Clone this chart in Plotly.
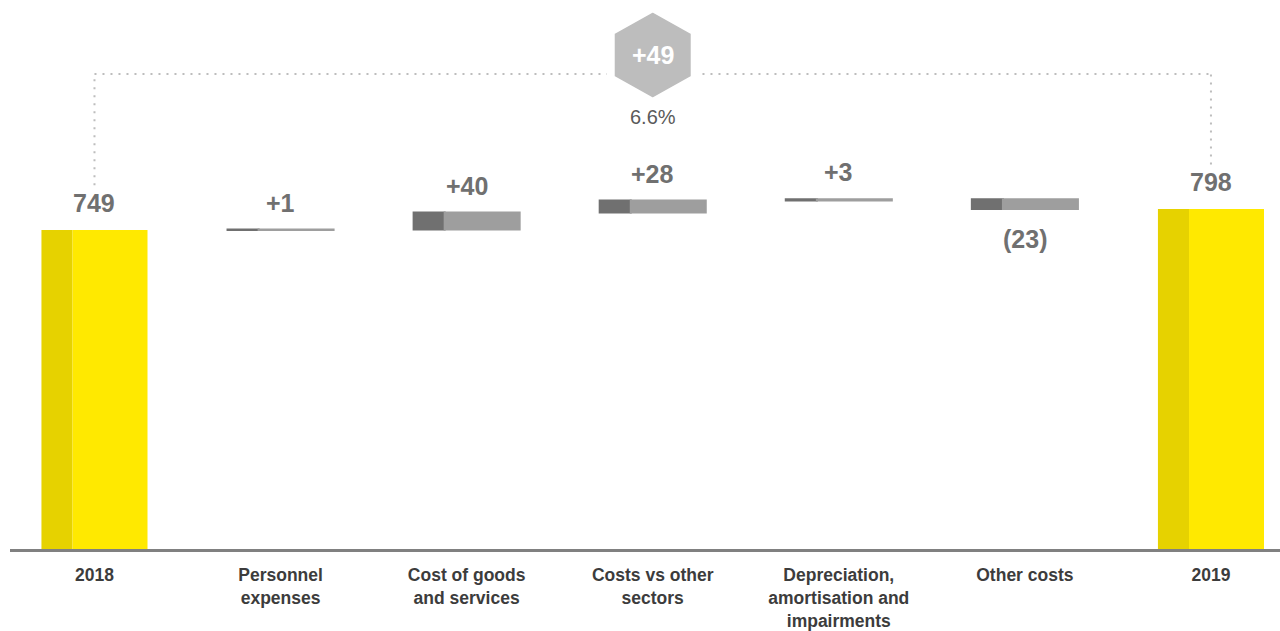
import plotly.graph_objects as go

# ---- data -------------------------------------------------------------
categories = [
    "2018",
    "Personnel<br>expenses",
    "Cost of goods<br>and services",
    "Costs vs other<br>sectors",
    "Depreciation,<br>amortisation and<br>impairments",
    "Other costs",
    "2019",
]
start_total = 749
end_total = 798
deltas = [1, 40, 28, 3, -23]
delta_labels = ["+1", "+40", "+28", "+3", "(23)"]
total_change_label = "+49"
total_change_pct = "6.6%"

# ---- style ------------------------------------------------------------
YELLOW_DARK = "#E6D200"
YELLOW = "#FFE900"
GREY_DARK = "#707070"
GREY = "#9E9E9E"
LABEL_GREY = "#707070"
TICK_GREY = "#3C3C3C"
DOT_GREY = "#BDBDBD"
HEX_GREY = "#BDBDBD"
FONT = "Liberation Sans, Arial, Helvetica, sans-serif"

BAR_LEFT = -0.285      # left edge of every bar relative to its category
DARK_W = 0.167         # darker left strip
LIGHT_W = 0.403        # lighter remainder
Y_MAX = 1289
BRACKET_Y = 1115
BRACKET_GAP = 105
HEX_Y = 1160
PCT_Y = 1014

# ---- waterfall geometry ------------------------------------------------
delta_cats = categories[1:-1]
bases, heights, tops, bottoms = [], [], [], []
running = start_total
for d in deltas:
    lo = running if d > 0 else running + d
    bases.append(lo)
    heights.append(abs(d))
    bottoms.append(lo)
    tops.append(lo + abs(d))
    running += d

total_cats = [categories[0], categories[-1]]
totals = [start_total, end_total]

fig = go.Figure()

# totals: two-tone yellow columns
fig.add_trace(go.Bar(x=total_cats, y=totals, base=[0, 0], width=DARK_W, offset=BAR_LEFT,
                     marker=dict(color=YELLOW_DARK, line=dict(width=0)), hoverinfo="skip"))
fig.add_trace(go.Bar(x=total_cats, y=totals, base=[0, 0], width=LIGHT_W, offset=BAR_LEFT + DARK_W,
                     marker=dict(color=YELLOW, line=dict(width=0)), hoverinfo="skip"))

# changes: two-tone grey floating bars
fig.add_trace(go.Bar(x=delta_cats, y=heights, base=bases, width=DARK_W, offset=BAR_LEFT,
                     marker=dict(color=GREY_DARK, line=dict(color=GREY_DARK, width=2)),
                     hoverinfo="skip"))
fig.add_trace(go.Bar(x=delta_cats, y=heights, base=bases, width=LIGHT_W, offset=BAR_LEFT + DARK_W,
                     marker=dict(color=GREY, line=dict(color=GREY, width=2)),
                     hoverinfo="skip"))

annotations = []
label_font = dict(family=FONT, size=25, color=LABEL_GREY, weight=700)
center_shift = (BAR_LEFT + (BAR_LEFT + DARK_W + LIGHT_W)) / 2

for cat, v in zip(total_cats, totals):
    annotations.append(dict(x=categories.index(cat) + center_shift, y=v, text=str(v),
                            showarrow=False, yanchor="middle", yshift=27, font=label_font))

for i, (d, lab) in enumerate(zip(deltas, delta_labels)):
    xi = i + 1 + center_shift
    if d > 0:
        annotations.append(dict(x=xi, y=tops[i], text=lab, showarrow=False,
                                yanchor="middle", yshift=27, font=label_font))
    else:
        annotations.append(dict(x=xi, y=bottoms[i], text=lab, showarrow=False,
                                yanchor="middle", yshift=-30, font=label_font))

# overall change badge
annotations.append(dict(x=3, y=HEX_Y, text=total_change_label, showarrow=False,
                        yanchor="middle", font=dict(family=FONT, size=25, color="white", weight=700)))
annotations.append(dict(x=3, y=PCT_Y, text=total_change_pct, showarrow=False,
                        yanchor="middle", font=dict(family=FONT, size=20, color="#5A5A5A")))

dot_line = dict(color=DOT_GREY, width=2, dash="2px,6px")
shapes = [
    dict(type="line", xref="x", yref="y", x0=0, x1=0,
         y0=start_total + BRACKET_GAP, y1=BRACKET_Y, line=dot_line, layer="below"),
    dict(type="line", xref="x", yref="y", x0=0, x1=6,
         y0=BRACKET_Y, y1=BRACKET_Y, line=dot_line, layer="below"),
    dict(type="line", xref="x", yref="y", x0=6, x1=6,
         y0=end_total + BRACKET_GAP, y1=BRACKET_Y, line=dot_line, layer="below"),
    dict(type="path", xref="x", yref="y", xsizemode="pixel", ysizemode="pixel",
         xanchor=3, yanchor=HEX_Y,
         path="M0,47 L42,23.5 L42,-23.5 L0,-47 L-42,-23.5 L-42,23.5 Z",
         fillcolor=HEX_GREY, line=dict(color="white", width=8), layer="above"),
]

fig.update_layout(
    width=1280, height=631,
    margin=dict(l=10, r=0, t=0, b=82),
    paper_bgcolor="white", plot_bgcolor="white",
    barmode="overlay", showlegend=False,
    annotations=annotations, shapes=shapes,
    font=dict(family=FONT),
    xaxis=dict(type="category", categoryorder="array", categoryarray=categories,
               range=[-0.454, 6.371], showgrid=False, zeroline=False,
               showline=True, linecolor="#808080", linewidth=3,
               ticks="outside", ticklen=8, tickcolor="rgba(0,0,0,0)",
               tickfont=dict(family=FONT, size=17.5, color=TICK_GREY, weight=700),
               automargin=False, fixedrange=True),
    yaxis=dict(range=[0, Y_MAX], visible=False, fixedrange=True, automargin=False),
)

fig.write_html("out.html", config={"displayModeBar": False})
